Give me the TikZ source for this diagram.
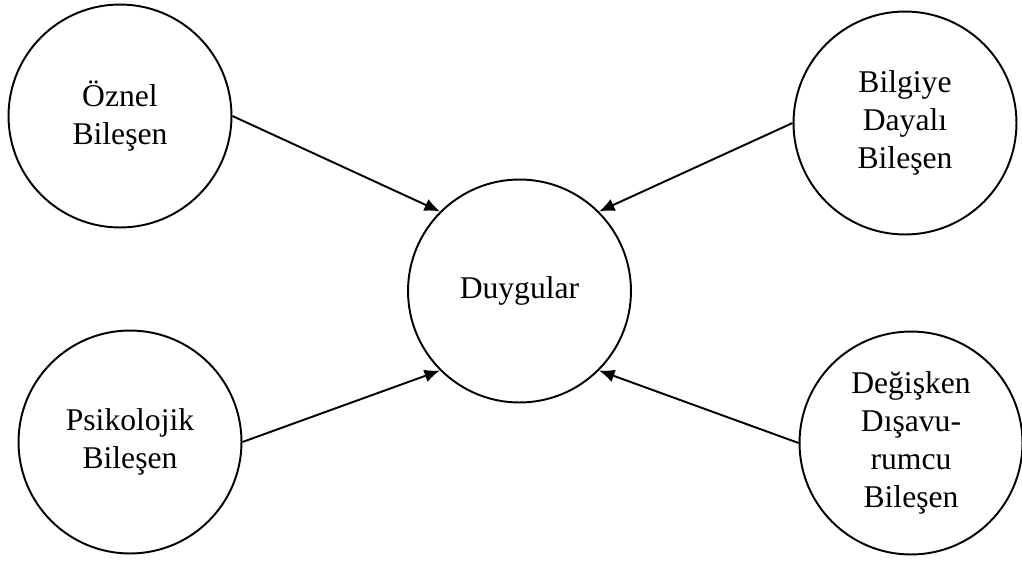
\documentclass[tikz,border=0pt]{standalone}
\usepackage{fontspec}
\setmainfont{Liberation Serif}
\usetikzlibrary{arrows.meta}

\begin{document}
\begin{tikzpicture}[x=0.02cm,y=-0.02cm,
    comp/.style={draw,circle,line width=1.1pt,minimum size=4.46cm,inner sep=0pt,
        align=center,font=\fontsize{18}{21.5}\selectfont},
    arr/.style={-{Latex[length=3.1mm,width=2.6mm]},line width=1.1pt}]

\useasboundingbox (0,0) rectangle (1022,561);

\node[comp] (duygu) at (519.5,291) {Duygular};

\node[comp] (oznel) at (120,116) {Öznel\\Bileşen};
\node[comp] (psiko) at (130,442) {Psikolojik\\Bileşen};
\node[comp] (bilgi) at (905,123) {Bilgiye\\Dayalı\\Bileşen};
\node[comp] (degis) at (911,443) {Değişken\\Dışavu-\\rumcu\\Bileşen};

\draw[arr] (oznel.east) -- (duygu.135);
\draw[arr] (bilgi.west) -- (duygu.45);
\draw[arr] (psiko.east) -- (duygu.225);
\draw[arr] (degis.west) -- (duygu.-45);

\end{tikzpicture}
\end{document}
